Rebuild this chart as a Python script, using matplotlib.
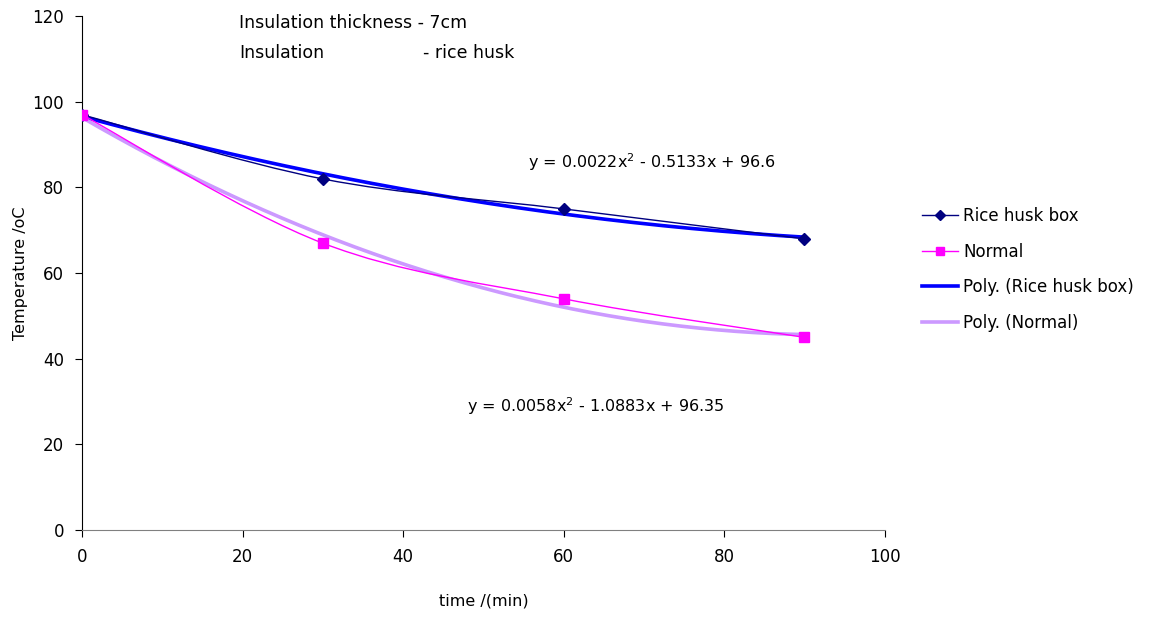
import numpy as np
import matplotlib.pyplot as plt
from matplotlib.path import Path
from matplotlib.patches import PathPatch
from matplotlib.lines import Line2D

time_min = [0, 30, 60, 90]
rice_husk = [97, 82, 75, 68]
normal = [97, 67, 54, 45]

x_ticks = [0, 20, 40, 60, 80, 100]
y_ticks = [0, 20, 40, 60, 80, 100, 120]

plt.rcParams['font.family'] = ['DejaVu Sans']


def smooth_path(xs, ys):
    # Excel-like smoothed line: bezier segments through the data points
    pts = np.column_stack([xs, ys]).astype(float)
    n = len(pts)
    verts = [pts[0]]
    codes = [Path.MOVETO]
    for i in range(n - 1):
        p_prev = pts[i - 1] if i > 0 else pts[i]
        p_next = pts[i + 2] if i + 2 < n else pts[i + 1]
        c1 = pts[i] + (pts[i + 1] - p_prev) / 6
        c2 = pts[i + 1] - (p_next - pts[i]) / 6
        verts += [c1, c2, pts[i + 1]]
        codes += [Path.CURVE4] * 3
    return Path(verts, codes)


fig = plt.figure(figsize=(11.55, 6.24), dpi=100)
ax = fig.add_axes([0.071, 0.1506, 0.695, 0.8234])

xs = np.linspace(0, 90, 200)
fit_r = np.polyfit(time_min, rice_husk, 2)
fit_n = np.polyfit(time_min, normal, 2)

ax.add_patch(PathPatch(smooth_path(time_min, rice_husk), fill=False,
                       edgecolor="#000080", lw=1.0, zorder=3))
ax.add_patch(PathPatch(smooth_path(time_min, normal), fill=False,
                       edgecolor="#FF00FF", lw=1.0, zorder=3))
ax.plot(xs, np.polyval(fit_r, xs), color="#0000FF", lw=2.6, zorder=2)
ax.plot(xs, np.polyval(fit_n, xs), color="#CC99FF", lw=2.6, zorder=2)
ax.plot(time_min, rice_husk, ls="none", marker="D", ms=6, color="#000080", zorder=4)
ax.plot(time_min, normal, ls="none", marker="s", ms=7, color="#FF00FF", zorder=4)

ax.set_xlim(0, 100)
ax.set_ylim(0, 120)
ax.set_xticks(x_ticks)
ax.set_yticks(y_ticks)
ax.tick_params(labelsize=12, direction="out", length=5, pad=8)
ax.spines["top"].set_visible(False)
ax.spines["right"].set_visible(False)
ax.spines["bottom"].set_color("#808080")
ax.spines["left"].set_color("black")

ax.set_xlabel("time /(min)", fontsize=11.5, labelpad=20)
ax.set_ylabel("Temperature /oC", fontsize=11.5, labelpad=3)

ax.text(19.6, 118.5, "Insulation thickness - 7cm", fontsize=12.5, va="center")
ax.text(19.6, 111.5, "Insulation", fontsize=12.5, va="center")
ax.text(42.5, 111.5, "- rice husk", fontsize=12.5, va="center")
ax.text(55.5, 86, r"y = 0.0022x$^2$ - 0.5133x + 96.6", fontsize=11.5, va="center")
ax.text(48, 29, r"y = 0.0058x$^2$ - 1.0883x + 96.35", fontsize=11.5, va="center")

handles = [
    Line2D([], [], color="#000080", lw=1.0, marker="D", ms=5),
    Line2D([], [], color="#FF00FF", lw=1.0, marker="s", ms=6),
    Line2D([], [], color="#0000FF", lw=2.6),
    Line2D([], [], color="#CC99FF", lw=2.6),
]
labels = ["Rice husk box", "Normal", "Poly. (Rice husk box)", "Poly. (Normal)"]
fig.legend(handles, labels, loc="upper left", bbox_to_anchor=(0.785, 0.692),
           frameon=False, fontsize=12, handlelength=2.2, handletextpad=0.3,
           labelspacing=1.05)

fig.savefig("out.png", dpi=100)
